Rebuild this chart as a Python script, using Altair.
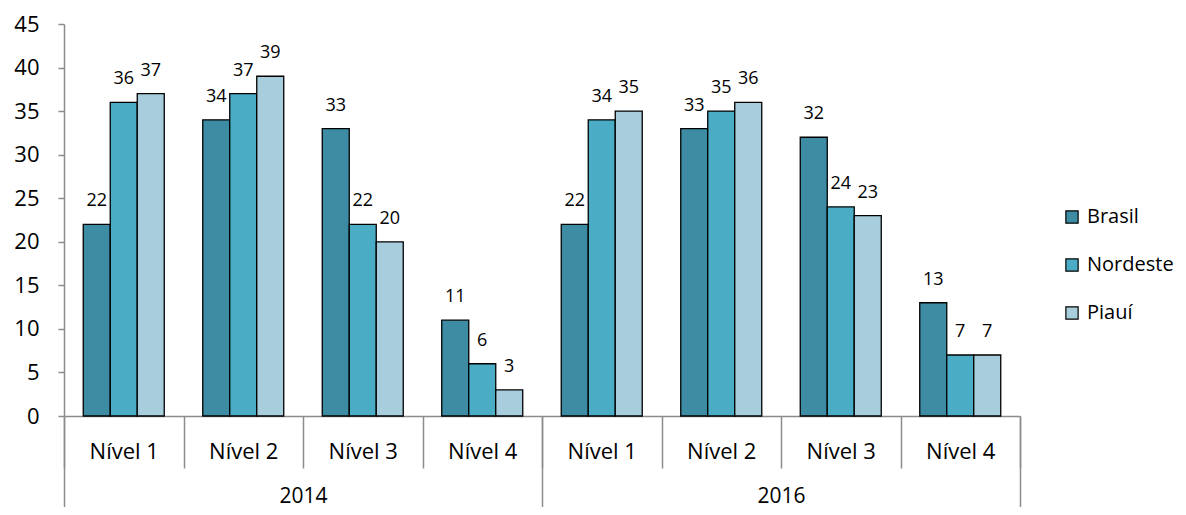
import altair as alt
import pandas as pd

anos = ["2014", "2016"]
niveis = ["Nível 1", "Nível 2", "Nível 3", "Nível 4"]
series = ["Brasil", "Nordeste", "Piauí"]
brasil = [22, 34, 33, 11, 22, 33, 32, 13]
nordeste = [36, 37, 22, 6, 34, 35, 24, 7]
piaui = [37, 39, 20, 3, 35, 36, 23, 7]
cores = ["#3D8CA4", "#4BACC6", "#A8CEDD"]

rows = []
cats = []
for ai, ano in enumerate(anos):
    for ni, nivel in enumerate(niveis):
        cats.append(f"{ano}|{nivel}")
for i, cat in enumerate(cats):
    for s, vals in zip(series, [brasil, nordeste, piaui]):
        rows.append({"cat": cat, "serie": s, "valor": vals[i]})
df = pd.DataFrame(rows)
df_anos = pd.DataFrame({"ano": anos})

FONT = "Open Sans"
AXC = "#8C8C8C"

x_enc = alt.X(
    "cat:N",
    sort=cats,
    scale=alt.Scale(domain=cats, paddingInner=0, paddingOuter=0),
    axis=alt.Axis(
        title=None,
        labelExpr="split(datum.label, '|')[1]",
        labelAngle=0,
        labelFontSize=22,
        labelFont=FONT,
        labelColor="black",
        tickBand="extent",
        tickSize=52,
        tickColor=AXC,
        tickWidth=1.5,
        domainColor=AXC,
        domainWidth=1.5,
        labelPadding=-27,
        grid=False,
    ),
)
xo_enc = alt.XOffset(
    "serie:N",
    sort=series,
    scale=alt.Scale(domain=series, paddingInner=0, paddingOuter=0.713),
)
y_enc = alt.Y(
    "valor:Q",
    scale=alt.Scale(domain=[0, 45], nice=False),
    axis=alt.Axis(
        title=None,
        values=list(range(0, 50, 5)),
        labelFontSize=22,
        labelFont=FONT,
        labelColor="black",
        tickSize=6,
        tickColor=AXC,
        tickWidth=1.5,
        domainColor=AXC,
        domainWidth=1.5,
        labelPadding=19,
        grid=False,
    ),
)

bars = alt.Chart(df).mark_bar(stroke="black", strokeWidth=1.3).encode(
    x=x_enc,
    xOffset=xo_enc,
    y=y_enc,
    color=alt.Color(
        "serie:N",
        sort=series,
        scale=alt.Scale(domain=series, range=cores),
        legend=alt.Legend(
            title=None,
            orient="none",
            legendX=998,
            legendY=183,
            padding=0,
            symbolType="square",
            symbolSize=150,
            symbolStrokeColor="black",
            symbolStrokeWidth=1.2,
            labelFontSize=20,
            labelFont=FONT,
            labelColor="black",
            rowPadding=28,
            labelOffset=5,
        ),
    ),
)

labels = alt.Chart(df).mark_text(
    baseline="middle", dy=-23, fontSize=18, font=FONT, color="black"
).encode(
    x=x_enc,
    xOffset=xo_enc,
    y=y_enc,
    text=alt.Text("valor:Q"),
)

years = alt.Chart(df_anos).mark_text(text="", opacity=0).encode(
    x=alt.X(
        "ano:N",
        sort=anos,
        scale=alt.Scale(domain=anos, paddingInner=0, paddingOuter=0),
        axis=alt.Axis(
            orient="bottom",
            title=None,
            labelAngle=0,
            labelFontSize=21,
            labelFont=FONT,
            labelColor="black",
            tickBand="extent",
            tickSize=99,
            tickColor=AXC,
            tickWidth=1.5,
            domain=False,
            labelPadding=-30,
            grid=False,
        ),
    )
)

chart = (
    alt.layer(alt.layer(bars, labels), years)
    .resolve_scale(x="independent")
    .properties(
        width=956,
        height=392,
        autosize=alt.AutoSizeParams(type="none"),
        padding={"left": 56, "top": 16, "right": 154, "bottom": 91},
    )
    .configure_view(stroke=None)
)

chart.save("out.html", embed_options={"renderer": "svg", "actions": False})
